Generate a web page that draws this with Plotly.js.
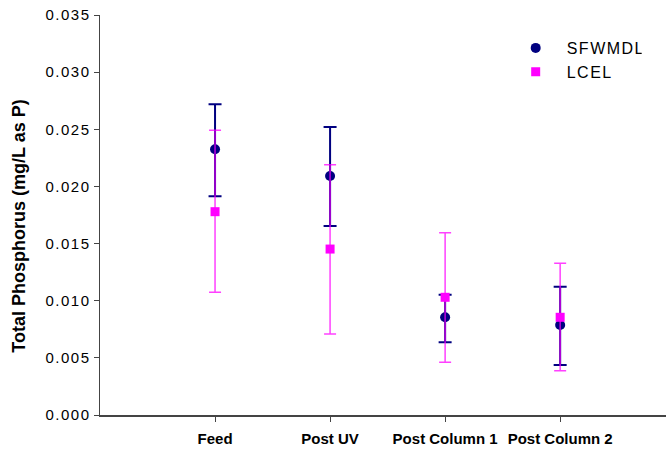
<!DOCTYPE html>
<html>
<head>
<meta charset="utf-8">
<script src="https://cdn.plot.ly/plotly-3.0.1.min.js"></script>
<style>
html,body{margin:0;padding:0;background:#fff;}
#chart{width:666px;height:452px;}
#chart .ytick text{letter-spacing:1.5px;}
#chart .legendtext{letter-spacing:1.5px;}
#chart g.g-ytitle{transform:translateY(11px);}
</style>
</head>
<body>
<div id="chart"></div>
<script>
const categories = ["Feed", "Post UV", "Post Column 1", "Post Column 2"];
const sfwmdlMean = [0.02325, 0.02091, 0.00855, 0.00788];
const sfwmdlHigh = [0.02719, 0.02520, 0.01053, 0.01123];
const sfwmdlLow  = [0.01914, 0.01654, 0.00636, 0.00438];
const lcelMean = [0.01779, 0.01452, 0.01030, 0.00855];
const lcelHigh = [0.02491, 0.02190, 0.01595, 0.01327];
const lcelLow  = [0.01074, 0.00709, 0.00461, 0.00388];
const yTicks = [0, 0.005, 0.010, 0.015, 0.020, 0.025, 0.030, 0.035];

const xIdx = categories.map((c, i) => i);
const diff = (a, b) => a.map((v, i) => v - b[i]);

const traces = [
  {
    name: "SFWMDL", type: "scatter", mode: "markers",
    x: xIdx, y: sfwmdlMean,
    marker: {symbol: "circle", size: 10, color: "#000080"},
    error_y: {type: "data", symmetric: false,
      array: diff(sfwmdlHigh, sfwmdlMean), arrayminus: diff(sfwmdlMean, sfwmdlLow),
      color: "#000080", thickness: 2, width: 6.5}
  },
  {
    name: "LCEL", type: "scatter", mode: "markers",
    x: xIdx, y: lcelMean,
    marker: {symbol: "square", size: 9, color: "#FF00FF"},
    error_y: {type: "data", symmetric: false,
      array: diff(lcelHigh, lcelMean), arrayminus: diff(lcelMean, lcelLow),
      color: "rgba(255,0,255,0.75)", thickness: 1.5, width: 6}
  }
];

const layout = {
  width: 666, height: 452,
  margin: {l: 100, r: 0, t: 15, b: 37},
  paper_bgcolor: "#fff", plot_bgcolor: "#fff",
  font: {family: "Liberation Sans, Arial, sans-serif", color: "#000"},
  showlegend: true,
  legend: {x: 0.715, y: 0.96, xanchor: "left", yanchor: "top", itemwidth: 52,
    font: {size: 16, color: "#000"}, bgcolor: "rgba(0,0,0,0)", tracegroupgap: 0},
  xaxis: {
    range: [-1, 3.92], tickmode: "array", tickvals: xIdx, ticktext: categories,
    showgrid: false, zeroline: false, showline: true, linecolor: "#444", linewidth: 1.5,
    ticks: "outside", ticklen: 5, tickcolor: "#444", tickwidth: 1,
    tickfont: {size: 15, family: "Liberation Sans, Arial, sans-serif", weight: "bold"},
    ticklabelstandoff: 4
  },
  yaxis: {
    range: [0, 0.035], tickmode: "array", tickvals: yTicks,
    ticktext: yTicks.map(v => v.toFixed(3)),
    showgrid: false, zeroline: false, showline: true, linecolor: "#444", linewidth: 1.5,
    ticks: "outside", ticklen: 5, tickcolor: "#444", tickwidth: 1,
    tickfont: {size: 15},
    title: {text: "<b>Total Phosphorus (mg/L as P)</b>", font: {size: 18}, standoff: 22}
  }
};

Plotly.newPlot("chart", traces, layout, {displayModeBar: false, staticPlot: true});
</script>
</body>
</html>
